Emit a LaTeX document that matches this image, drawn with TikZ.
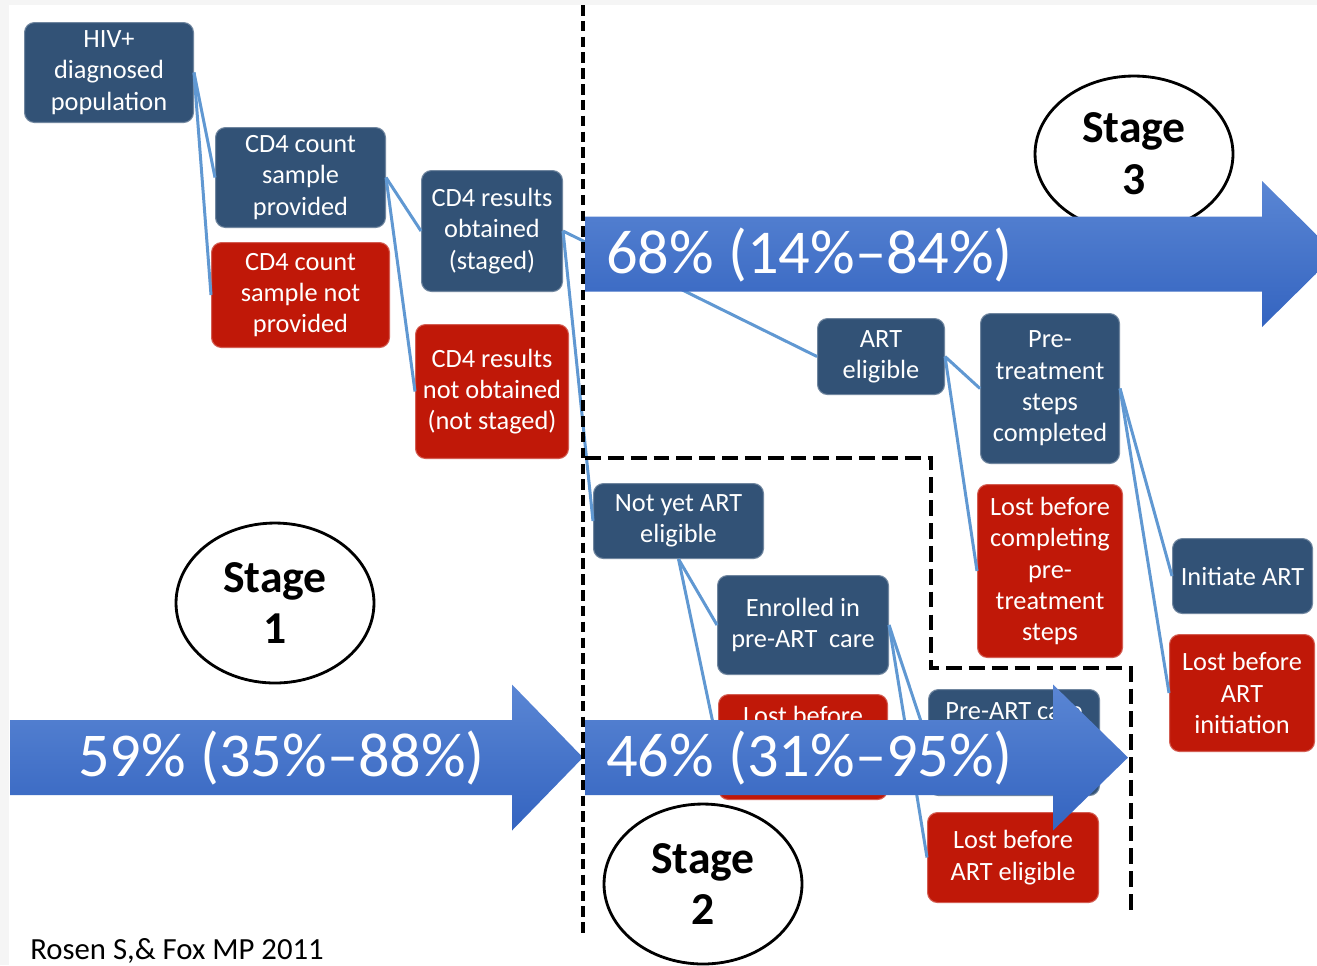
\documentclass[tikz,border=0pt]{standalone}
\usepackage{fontspec}
\setmainfont{Carlito}
\usepackage{tikz}
\usetikzlibrary{shapes, arrows, positioning, calc}
\definecolor{boxblue}{RGB}{50,82,118}
\definecolor{boxred}{RGB}{192,24,8}
\definecolor{linkblue}{RGB}{96,152,210}
\definecolor{arrowtop}{RGB}{90,134,212}
\definecolor{arrowbot}{RGB}{52,100,192}
\tikzstyle{stepbox} = [draw=boxblue!70!white, line width=0.6pt, fill=boxblue, rounded corners=0.2cm, text=white, align=center, anchor=north west, inner xsep=2pt, font=\fontsize{15}{17.8}\selectfont]
\tikzstyle{lostbox} = [stepbox, draw=boxred!70!white, fill=boxred]
\tikzstyle{link} = [draw=linkblue, line width=1.7pt]
\tikzstyle{stagering} = [draw, ellipse, line width=1.6pt, align=center, font=\fontsize{26}{29.5}\selectfont\bfseries]
\tikzstyle{pct} = [anchor=west, inner sep=0, text=white, font=\fontsize{35.5}{40}\selectfont]
\newcommand{\flowarrow}[4]{\shade[top color=arrowtop, bottom color=arrowbot] (#1,#4-37.5) -- (#2,#4-37.5) -- (#2,#4-73) -- (#3,#4) -- (#2,#4+73) -- (#2,#4+37.5) -- (#1,#4+37.5) -- cycle;}

\begin{document}
\begin{tikzpicture}[x=0.02cm, y=-0.02cm]
		\useasboundingbox (0,0) rectangle (1317,965);
		\fill[gray!8] (0,0) rectangle (1317,965);
		\fill[white] (9,5) rectangle (1317,965);

		\coordinate (hivpop)  at (24,   22);
		\coordinate (sampyes) at (215,  127);
		\coordinate (sampno)  at (211,  242);
		\coordinate (resyes)  at (421,  170);
		\coordinate (resno)   at (415,  324);
		\coordinate (eligib)  at (817,  318);
		\coordinate (pretyes) at (980,  313);
		\coordinate (pretno)  at (977,  484);
		\coordinate (initart) at (1172, 538);
		\coordinate (initno)  at (1169, 634);
		\coordinate (notelig) at (593,  483);
		\coordinate (enrolyes) at (717, 575);
		\coordinate (enrolno) at (718,  694);
		\coordinate (precare) at (928,  689);
		\coordinate (eligno)  at (927,  812);
		\coordinate (divtop)  at (583,  5);
		\coordinate (divbot)  at (583,  935);
		\coordinate (boxin1)  at (585,  458);
		\coordinate (boxin2)  at (931,  458);
		\coordinate (boxin3)  at (931,  668);
		\coordinate (boxin4)  at (1131, 668);
		\coordinate (boxin5)  at (1131, 912);

		\node[stepbox, minimum width=3.38cm, minimum height=2cm] (HIV) at (hivpop) {HIV+\\diagnosed\\population};
		\node[stepbox, minimum width=3.4cm, minimum height=2cm] (SMP) at (sampyes) {CD4 count\\sample\\provided};
		\node[lostbox, minimum width=3.56cm, minimum height=2.1cm] (NSP) at (sampno) {CD4 count\\sample not\\provided};
		\node[stepbox, minimum width=2.82cm, minimum height=2.42cm] (OBT) at (resyes) {CD4 results\\obtained\\(staged)};
		\node[lostbox, minimum width=3.06cm, minimum height=2.68cm] (NOB) at (resno) {CD4 results\\not obtained\\(not staged)};
		\node[stepbox, minimum width=2.54cm, minimum height=1.52cm] (ELI) at (eligib) {ART\\eligible};
		\node[stepbox, minimum width=2.78cm, minimum height=3cm] (PRE) at (pretyes) {Pre-\\treatment\\steps\\completed};
		\node[lostbox, minimum width=2.9cm, minimum height=3.46cm] (LPR) at (pretno) {Lost before\\completing\\pre-\\treatment\\steps};
		\node[stepbox, minimum width=2.8cm, minimum height=1.5cm] (INI) at (initart) {Initiate ART};
		\node[lostbox, minimum width=2.9cm, minimum height=2.34cm] (LIN) at (initno) {Lost before\\ART\\initiation};
		\node[stepbox, minimum width=3.4cm, minimum height=1.5cm] (NYE) at (notelig) {Not yet ART\\eligible};
		\node[stepbox, minimum width=3.42cm, minimum height=1.98cm] (ENR) at (enrolyes) {Enrolled in\\pre-ART~ care};
		\node[lostbox, minimum width=3.38cm, inner ysep=0.15cm, text height=0.45cm, text depth=1.35cm] (LEN) at (enrolno) {Lost before};
		\node[stepbox, minimum width=3.42cm, inner ysep=0.15cm, text height=0.45cm, text depth=1.37cm] (PAC) at (precare) {Pre-ART care};
		\node[lostbox, minimum width=3.42cm, minimum height=1.8cm] (LAE) at (eligno) {Lost before\\ART eligible};

		\draw[link] (HIV.east) -- (SMP.west);
		\draw[link] (HIV.east) -- (NSP.west);
		\draw[link] (SMP.east) -- (OBT.west);
		\draw[link] (SMP.east) -- (NOB.west);
		\draw[link] (OBT.east) -- (ELI.west);
		\draw[link] (OBT.east) -- (NYE.west);
		\draw[link] (ELI.east) -- (PRE.west);
		\draw[link] (ELI.east) -- (LPR.west);
		\draw[link] (PRE.east) -- (INI.west);
		\draw[link] (PRE.east) -- (LIN.west);
		\draw[link] (NYE.south) -- (ENR.west);
		\draw[link] (NYE.south) -- (LEN.west);
		\draw[link] (ENR.east) -- (PAC.west);
		\draw[link] (ENR.east) -- (LAE.west);

		\node[stagering, minimum width=3.96cm, minimum height=3.2cm] (ST1) at (275, 603) {Stage\\1};
		\node[stagering, minimum width=3.96cm, minimum height=3.2cm] (ST2) at (703, 884) {Stage\\2};
		\node[stagering, minimum width=3.96cm, minimum height=3.12cm] (ST3) at (1134, 154) {Stage\\3};

		\flowarrow{10}{512}{583}{757.5}
		\flowarrow{585}{1053}{1128}{757.5}
		\flowarrow{585}{1262}{1336}{254}
		\node[pct] (P1) at (78, 758) {59\% (35\%--88\%)};
		\node[pct] (P2) at (606, 758) {46\% (31\%--95\%)};
		\node[pct] (P3) at (606, 255) {68\% (14\%--84\%)};

		\draw[dash pattern=on 6pt off 3pt, line width=2pt] (divtop) -- (divbot);
		\draw[dash pattern=on 9pt off 4pt, line width=2.6pt] (boxin1) -- (boxin2) -- (boxin3) -- (boxin4) -- (boxin5);

		\node[anchor=base west, inner sep=0, font=\fontsize{17.5}{20}\selectfont] (REF) at (30, 959) {Rosen S,\& Fox MP 2011};

	\end{tikzpicture}
\end{document}
